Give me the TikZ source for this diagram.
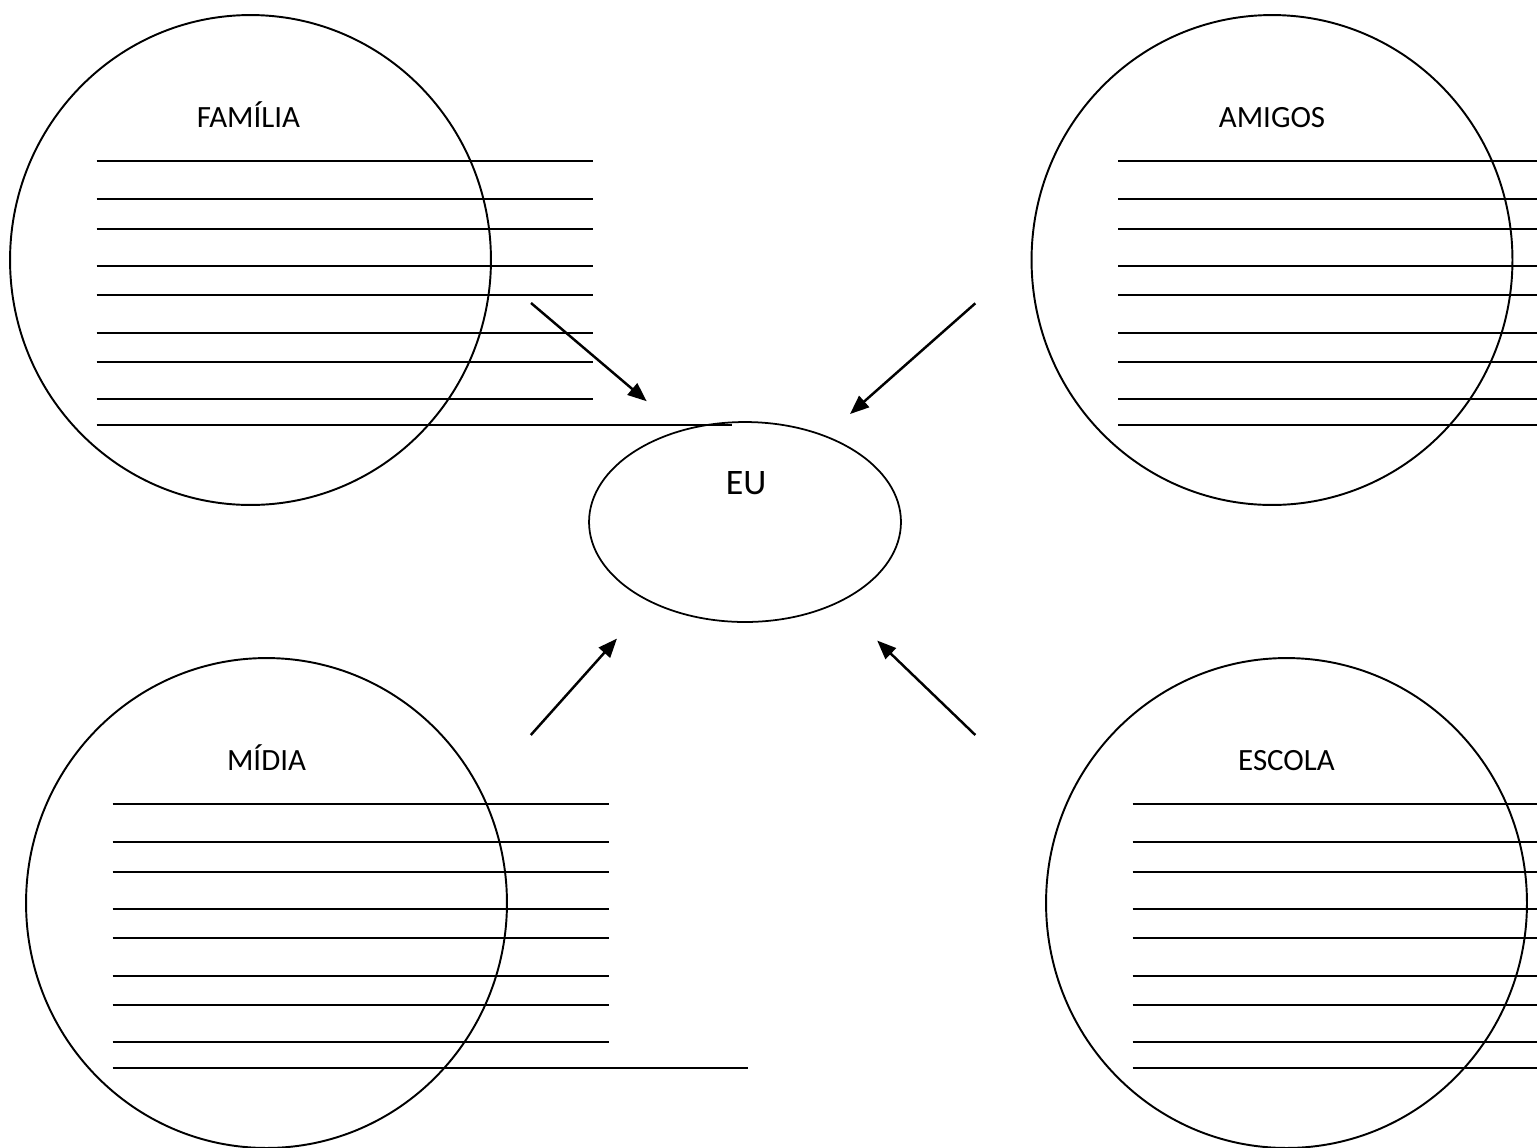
\documentclass[tikz,border=0pt]{standalone}
\usepackage{fontspec}
\setmainfont{Carlito}
\usetikzlibrary{arrows.meta,shapes.geometric}

\begin{document}
\begin{tikzpicture}[x=0.02cm,y=-0.02cm,
    group/.style={
% The shape:
ellipse,
% The size:
      minimum width=9.62cm, minimum height=9.8cm, inner sep=0pt,
% The border:
      draw=black, line width=1.1pt
    },
    self/.style={
      ellipse,
      minimum width=6.24cm, minimum height=4cm, inner sep=0pt,
      draw=black, line width=1pt
    },
    grouptitle/.style={anchor=base, font=\fontsize{17.6}{20}\selectfont},
    writeline/.style={line width=1pt},
    influence/.style={-{Triangle[length=3.8mm,width=3mm]}, line width=1.4pt}
  ]
  \useasboundingbox (0,0) rectangle (1537,1147);
  \clip (0,0) rectangle (1537,1147);

  % the four circles
  \node [group] (familia) at (250.5,260) {};
  \node [group] (amigos) at (1272,260) {};
  \node [group] (midia) at (266.5,903) {};
  \node [group] (escola) at (1286.5,903) {};

  \node [grouptitle] (familia-t) at ([shift={(-2,-133)}]familia.center) {FAMÍLIA};
  \node [grouptitle] (amigos-t) at ([shift={(0,-133)}]amigos.center) {AMIGOS};
  \node [grouptitle] (midia-t) at ([shift={(0,-133)}]midia.center) {MÍDIA};
  \node [grouptitle] (escola-t) at ([shift={(0,-133)}]escola.center) {ESCOLA};

  % lines to write on
  \foreach \c in {familia,amigos,midia,escola} {
    \foreach \dy in {-99,-61,-31,6,35,73,102,139}
      \draw [writeline] ([shift={(-154,\dy)}]\c.center) -- ([shift={(342,\dy)}]\c.center);
    \draw [writeline] ([shift={(-154,165)}]\c.center) -- ([shift={(481,165)}]\c.center);
  }

  % me in the middle
  \node [self] (eu) at (745,522) {};
  \node [anchor=base, font=\fontsize{20.4}{24}\selectfont] (eu-t) at ([shift={(1,-28)}]eu.center) {EU};

  \coordinate (from-familia) at (531,303);
  \coordinate (from-amigos) at (975.3,303.3);
  \coordinate (from-midia) at (530.8,735);
  \coordinate (from-escola) at (975.3,735);

  \draw [influence, shorten >=0.89cm] (from-familia) -- (eu.125.5);
  \draw [influence, shorten >=0.65cm] (from-amigos) -- (eu.47.6);
  \draw [influence, shorten >=0.98cm] (from-midia) -- (eu.220.6);
  \draw [influence, shorten >=1.08cm] (from-escola) -- (eu.319.2);
\end{tikzpicture}
\end{document}
